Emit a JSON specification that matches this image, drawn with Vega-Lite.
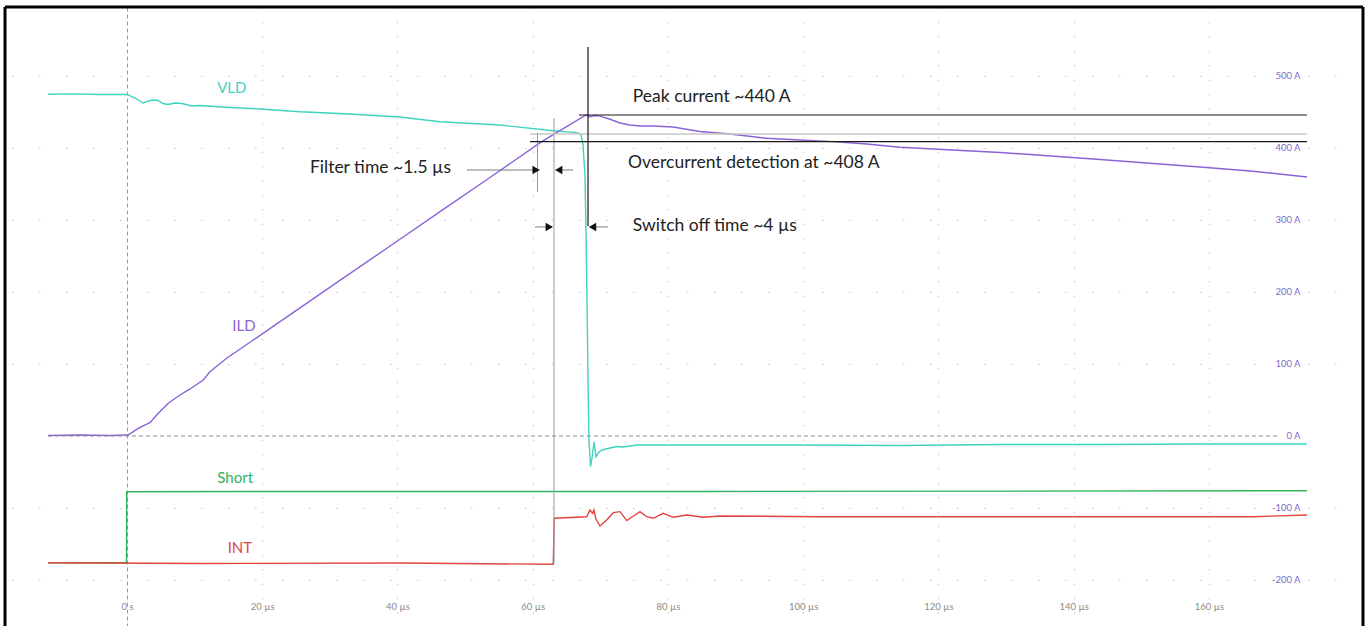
{
  "$schema": "https://vega.github.io/schema/vega-lite/v6.json",
  "width": 1358,
  "height": 619,
  "autosize": {"type": "none"},
  "padding": {"left": 5, "top": 7, "right": 5, "bottom": 0},
  "background": "white",
  "config": {"view": {"stroke": null}, "font": "Lato"},
  "datasets": {
    "traces": [
      {"s": "VLD", "t": -11.68, "v": 474.6}, {"s": "VLD", "t": -8, "v": 475.2}, {"s": "VLD", "t": -4, "v": 474.3}, {"s": "VLD", "t": 0, "v": 474.3},
      {"s": "VLD", "t": 1.18, "v": 469.4}, {"s": "VLD", "t": 2.37, "v": 462.5}, {"s": "VLD", "t": 3.40, "v": 466.0}, {"s": "VLD", "t": 4.44, "v": 466.7},
      {"s": "VLD", "t": 5.32, "v": 461.8}, {"s": "VLD", "t": 6.06, "v": 460.4}, {"s": "VLD", "t": 7.10, "v": 462.5}, {"s": "VLD", "t": 8.13, "v": 461.8},
      {"s": "VLD", "t": 9.61, "v": 458.3}, {"s": "VLD", "t": 10.80, "v": 459.0}, {"s": "VLD", "t": 15.23, "v": 456.3}, {"s": "VLD", "t": 19.67, "v": 454.2},
      {"s": "VLD", "t": 25.58, "v": 450.4}, {"s": "VLD", "t": 32.98, "v": 447.2}, {"s": "VLD", "t": 40.37, "v": 443.1}, {"s": "VLD", "t": 46.29, "v": 436.5},
      {"s": "VLD", "t": 55.16, "v": 431.9}, {"s": "VLD", "t": 63.0, "v": 424.0}, {"s": "VLD", "t": 66.55, "v": 421.3}, {"s": "VLD", "t": 67.14, "v": 418.1},
      {"s": "VLD", "t": 67.44, "v": 404.2}, {"s": "VLD", "t": 67.73, "v": 362.5}, {"s": "VLD", "t": 67.88, "v": 286.1}, {"s": "VLD", "t": 68.03, "v": 188.9},
      {"s": "VLD", "t": 68.18, "v": 77.8}, {"s": "VLD", "t": 68.32, "v": -5.6}, {"s": "VLD", "t": 68.55, "v": -42.4}, {"s": "VLD", "t": 68.77, "v": -30.6},
      {"s": "VLD", "t": 69.07, "v": -8.3}, {"s": "VLD", "t": 69.37, "v": -29.2}, {"s": "VLD", "t": 69.81, "v": -22.2}, {"s": "VLD", "t": 70.25, "v": -19.4},
      {"s": "VLD", "t": 71.43, "v": -16.7}, {"s": "VLD", "t": 72.46, "v": -14.6}, {"s": "VLD", "t": 73.35, "v": -15.3}, {"s": "VLD", "t": 75.42, "v": -12.5},
      {"s": "VLD", "t": 84.74, "v": -12.5}, {"s": "VLD", "t": 99.53, "v": -12.5}, {"s": "VLD", "t": 114.3, "v": -13.2}, {"s": "VLD", "t": 129.1, "v": -11.8},
      {"s": "VLD", "t": 143.9, "v": -11.8}, {"s": "VLD", "t": 158.7, "v": -11.1}, {"s": "VLD", "t": 174.5, "v": -11.1},

      {"s": "ILD", "t": -11.68, "v": 0.7}, {"s": "ILD", "t": -6.95, "v": 1.4}, {"s": "ILD", "t": -2.51, "v": 0.7}, {"s": "ILD", "t": 0.15, "v": 1.4},
      {"s": "ILD", "t": 1.43, "v": 9.3}, {"s": "ILD", "t": 2.37, "v": 13.9}, {"s": "ILD", "t": 3.40, "v": 18.5}, {"s": "ILD", "t": 4.63, "v": 31.5},
      {"s": "ILD", "t": 6.11, "v": 45.4}, {"s": "ILD", "t": 7.84, "v": 56.9}, {"s": "ILD", "t": 9.32, "v": 65.3}, {"s": "ILD", "t": 11.28, "v": 77.8},
      {"s": "ILD", "t": 12.27, "v": 89.3}, {"s": "ILD", "t": 14.74, "v": 107.9}, {"s": "ILD", "t": 18.68, "v": 133.3}, {"s": "ILD", "t": 22.63, "v": 158.8},
      {"s": "ILD", "t": 31.01, "v": 212.9}, {"s": "ILD", "t": 40.37, "v": 273.3}, {"s": "ILD", "t": 46.29, "v": 311.5}, {"s": "ILD", "t": 53.68, "v": 359.0},
      {"s": "ILD", "t": 61.33, "v": 408.8}, {"s": "ILD", "t": 63.30, "v": 419.9}, {"s": "ILD", "t": 65.51, "v": 432.4}, {"s": "ILD", "t": 67.88, "v": 445.8},
      {"s": "ILD", "t": 68.47, "v": 443.5}, {"s": "ILD", "t": 69.21, "v": 445.1}, {"s": "ILD", "t": 69.95, "v": 444.2}, {"s": "ILD", "t": 71.43, "v": 439.9},
      {"s": "ILD", "t": 72.91, "v": 434.7}, {"s": "ILD", "t": 74.39, "v": 431.9}, {"s": "ILD", "t": 75.87, "v": 430.6}, {"s": "ILD", "t": 77.79, "v": 430.6},
      {"s": "ILD", "t": 80.75, "v": 429.2}, {"s": "ILD", "t": 84.74, "v": 422.9}, {"s": "ILD", "t": 89.18, "v": 419.4}, {"s": "ILD", "t": 94.60, "v": 413.5},
      {"s": "ILD", "t": 99.53, "v": 411.1}, {"s": "ILD", "t": 104.41, "v": 408.8}, {"s": "ILD", "t": 109.39, "v": 405.6}, {"s": "ILD", "t": 114.32, "v": 401.0},
      {"s": "ILD", "t": 129.1, "v": 393.8}, {"s": "ILD", "t": 143.9, "v": 384.0}, {"s": "ILD", "t": 158.68, "v": 373.6}, {"s": "ILD", "t": 166.1, "v": 368.1},
      {"s": "ILD", "t": 174.5, "v": 359.7},

      {"s": "Short", "t": -11.68, "v": -176.0}, {"s": "Short", "t": -0.07, "v": -176.0}, {"s": "Short", "t": -0.04, "v": -77.4},
      {"s": "Short", "t": 25.58, "v": -77.1}, {"s": "Short", "t": 84.74, "v": -77.1}, {"s": "Short", "t": 174.5, "v": -76.0},

      {"s": "INT", "t": -11.68, "v": -176.0}, {"s": "INT", "t": 10.80, "v": -177.1}, {"s": "INT", "t": 40.37, "v": -176.4}, {"s": "INT", "t": 63.04, "v": -178.2},
      {"s": "INT", "t": 63.19, "v": -114.3}, {"s": "INT", "t": 67.98, "v": -112.1}, {"s": "INT", "t": 68.47, "v": -102.8}, {"s": "INT", "t": 68.87, "v": -107.4},
      {"s": "INT", "t": 69.06, "v": -102.8}, {"s": "INT", "t": 69.36, "v": -115.7}, {"s": "INT", "t": 69.95, "v": -125.0}, {"s": "INT", "t": 70.94, "v": -116.7},
      {"s": "INT", "t": 71.92, "v": -106.5}, {"s": "INT", "t": 72.91, "v": -105.1}, {"s": "INT", "t": 73.90, "v": -117.6}, {"s": "INT", "t": 75.13, "v": -109.7},
      {"s": "INT", "t": 75.87, "v": -105.1}, {"s": "INT", "t": 76.86, "v": -112.1}, {"s": "INT", "t": 77.83, "v": -114.3}, {"s": "INT", "t": 79.31, "v": -107.4},
      {"s": "INT", "t": 80.79, "v": -112.9}, {"s": "INT", "t": 82.77, "v": -109.7}, {"s": "INT", "t": 85.23, "v": -112.9}, {"s": "INT", "t": 87.70, "v": -111.1},
      {"s": "INT", "t": 102.48, "v": -112.1}, {"s": "INT", "t": 129.1, "v": -112.1}, {"s": "INT", "t": 166.5, "v": -112.1}, {"s": "INT", "t": 174.5, "v": -109.7}
    ],
    "frameV": [{"x": -18.04}, {"x": 182.79}],
    "frameH": [{"y": 595.8}],
    "zeroLine": [{"x": -11.68, "x2": 170.5, "y": 0}],
    "blackH": [
      {"x": 66.84, "x2": 174.5, "y": 445.8},
      {"x": 59.6, "x2": 174.5, "y": 408.8}
    ],
    "arrowShafts": [
      {"x": 50.28, "x2": 61.0, "y": 369.4},
      {"x": 63.4, "x2": 65.96, "y": 369.4},
      {"x": 60.34, "x2": 62.9, "y": 290.3},
      {"x": 68.4, "x2": 71.13, "y": 290.3}
    ],
    "grayH": [{"x": 59.6, "x2": 174.5, "y": 419.4}],
    "blackV": [{"x": 68.18, "y": 291.7, "y2": 540.3}],
    "grayV": [
      {"x": 60.71, "y": 338.9, "y2": 420.8},
      {"x": 63.15, "y": -176.4, "y2": 441.7}
    ],
    "heads": [
      {"x": 60.5, "y": 369.4, "dir": "right"},
      {"x": 63.85, "y": 369.4, "dir": "left"},
      {"x": 62.45, "y": 290.3, "dir": "right"},
      {"x": 68.85, "y": 290.3, "dir": "left"}
    ],
    "seriesLabels": [
      {"s": "VLD", "x": 15.5, "y": 483},
      {"s": "ILD", "x": 17.3, "y": 152.8},
      {"s": "Short", "x": 16.0, "y": -58},
      {"s": "INT", "x": 16.7, "y": -155.6}
    ],
    "notes": [
      {"label": "Peak current ~440 A", "x": 74.8, "y": 470.8},
      {"label": "Overcurrent detection at ~408 A", "x": 74.1, "y": 379},
      {"label": "Filter time ~1.5 µs", "x": 27.06, "y": 372},
      {"label": "Switch off time ~4 µs", "x": 74.8, "y": 291.7}
    ]
  },
  "layer": [
    {
      "data": {"name": "traces"},
      "mark": {"type": "line", "strokeWidth": 1.4},
      "encoding": {
        "x": {
          "field": "t", "type": "quantitative",
          "scale": {"domain": [-18.04, 182.79], "nice": false, "zero": false},
          "axis": {
            "orient": "bottom", "offset": -20, "title": null, "domain": false, "ticks": false,
            "values": [0, 20, 40, 60, 80, 100, 120, 140, 160],
            "labelExpr": "datum.value == 0 ? '0 s' : datum.value + ' µs'",
            "labelFontSize": 9.5, "labelColor": "#8a8a8a", "labelPadding": 0, "labelBaseline": "middle",
            "grid": true, "gridColor": {"condition": {"test": "datum.value === 0", "value": "#9a9a9a"}, "value": "#c4c4c4"},
            "gridDash": {"condition": {"test": "datum.value === 0", "value": [4, 3]}, "value": [1.5, 12.9]},
            "gridWidth": 1
          }
        },
        "y": {
          "field": "v", "type": "quantitative",
          "scale": {"domain": [-263.9, 595.8], "nice": false, "zero": false},
          "axis": {
            "orient": "right", "offset": -63, "title": null, "domain": false, "ticks": false,
            "values": [-200, -100, 0, 100, 200, 300, 400, 500],
            "labelExpr": "datum.value + ' A'",
            "labelFontSize": 9.5, "labelColor": "#7d6bc9", "labelPadding": 0, "labelAlign": "right",
            "grid": true, "gridColor": "#c4c4c4",
            "gridOpacity": {"condition": {"test": "datum.value === 0", "value": 0}, "value": 1},
            "gridDash": [1.5, 25.5], "gridWidth": 1
          }
        },
        "color": {
          "field": "s", "type": "nominal", "legend": null,
          "scale": {"domain": ["VLD", "ILD", "Short", "INT"], "range": ["#3fd3c0", "#8a63d6", "#2fb35c", "#e0453f"]}
        }
      }
    },
    {
      "data": {"name": "zeroLine"},
      "mark": {"type": "rule", "color": "#8c8c8c", "strokeDash": [4, 3], "strokeWidth": 1},
      "encoding": {"x": {"field": "x", "type": "quantitative"}, "x2": {"field": "x2"}, "y": {"field": "y", "type": "quantitative"}}
    },
    {
      "data": {"name": "grayH"},
      "mark": {"type": "rule", "color": "#c8c8c8", "strokeWidth": 1.5},
      "encoding": {"x": {"field": "x", "type": "quantitative"}, "x2": {"field": "x2"}, "y": {"field": "y", "type": "quantitative"}}
    },
    {
      "data": {"name": "grayV"},
      "mark": {"type": "rule", "color": "#9a9a9a", "strokeWidth": 1},
      "encoding": {"x": {"field": "x", "type": "quantitative"}, "y": {"field": "y", "type": "quantitative"}, "y2": {"field": "y2"}}
    },
    {
      "data": {"name": "arrowShafts"},
      "mark": {"type": "rule", "color": "#7a7a7a", "strokeWidth": 1},
      "encoding": {"x": {"field": "x", "type": "quantitative"}, "x2": {"field": "x2"}, "y": {"field": "y", "type": "quantitative"}}
    },
    {
      "data": {"name": "blackH"},
      "mark": {"type": "rule", "color": "#1a1a1a", "strokeWidth": 1.2},
      "encoding": {"x": {"field": "x", "type": "quantitative"}, "x2": {"field": "x2"}, "y": {"field": "y", "type": "quantitative"}}
    },
    {
      "data": {"name": "blackV"},
      "mark": {"type": "rule", "color": "#1a1a1a", "strokeWidth": 1.2},
      "encoding": {"x": {"field": "x", "type": "quantitative"}, "y": {"field": "y", "type": "quantitative"}, "y2": {"field": "y2"}}
    },
    {
      "data": {"name": "heads"},
      "mark": {"type": "point", "filled": true, "color": "#111111", "size": 70, "opacity": 1},
      "encoding": {
        "x": {"field": "x", "type": "quantitative"},
        "y": {"field": "y", "type": "quantitative"},
        "shape": {"field": "dir", "type": "nominal", "legend": null, "scale": {"domain": ["right", "left"], "range": ["triangle-right", "triangle-left"]}}
      }
    },
    {
      "data": {"name": "seriesLabels"},
      "mark": {"type": "text", "fontSize": 15, "font": "Lato", "align": "center", "baseline": "middle"},
      "encoding": {
        "x": {"field": "x", "type": "quantitative"},
        "y": {"field": "y", "type": "quantitative"},
        "text": {"field": "s"},
        "color": {"field": "s", "type": "nominal", "legend": null}
      }
    },
    {
      "data": {"name": "notes"},
      "mark": {"type": "text", "fontSize": 17.5, "font": "Lato", "align": "left", "baseline": "middle", "color": "#222222"},
      "encoding": {
        "x": {"field": "x", "type": "quantitative"},
        "y": {"field": "y", "type": "quantitative"},
        "text": {"field": "label"}
      }
    },
    {
      "data": {"name": "frameV"},
      "mark": {"type": "rule", "color": "#000000", "strokeWidth": 3},
      "encoding": {"x": {"field": "x", "type": "quantitative"}}
    },
    {
      "data": {"name": "frameH"},
      "mark": {"type": "rule", "color": "#000000", "strokeWidth": 3},
      "encoding": {"y": {"field": "y", "type": "quantitative"}}
    }
  ]
}
